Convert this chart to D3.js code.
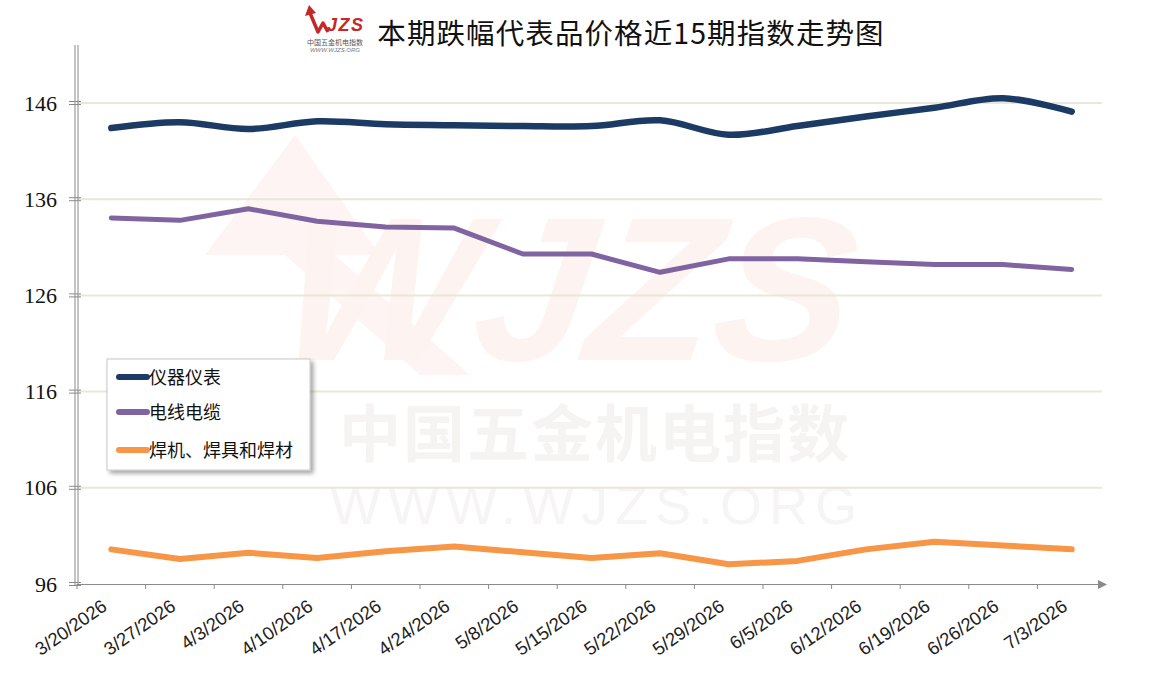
<!DOCTYPE html>
<html><head><meta charset="utf-8">
<script src="https://cdn.jsdelivr.net/npm/d3@7"></script>
<style>body{margin:0;background:#fff;}svg{display:block;}</style>
</head><body>
<svg id="c" width="1159" height="676"></svg>
<script>
const categories = ["3/20/2026","3/27/2026","4/3/2026","4/10/2026","4/17/2026","4/24/2026","5/8/2026","5/15/2026","5/22/2026","5/29/2026","6/5/2026","6/12/2026","6/19/2026","6/26/2026","7/3/2026"];
const instruments = [143.4,144.0,143.3,144.1,143.8,143.7,143.6,143.6,144.2,142.7,143.6,144.6,145.5,146.5,145.1];
const cables = [134.05,133.8,135.0,133.7,133.1,133.0,130.3,130.3,128.4,129.8,129.8,129.5,129.2,129.2,128.7];
const welding = [99.6,98.6,99.25,98.7,99.4,99.9,99.3,98.7,99.2,98.05,98.4,99.6,100.4,100.0,99.6];
const yTicks = [96,106,116,126,136,146];
const seriesNames = ["仪器仪表","电线电缆","焊机、焊具和焊材"];
const title = "本期跌幅代表品价格近15期指数走势图";

const svg = d3.select("#c");
const pL = 77, pR = 1106, pT = 45, pB = 584;
const x = d3.scaleBand().domain(categories).range([pL, pR]);
const y = d3.scaleLinear().domain([96, 146]).range([pB, 103]);
const cx = d => x(d) + x.bandwidth()/2;

// watermark
const wm = svg.append("g");
wm.append("path").attr("d","M205,255 L295,135 L380,255 L335,255 L470,375 L420,375 L285,255 Z")
  .attr("fill","#fdf4f3");
wm.append("text").attr("x", 610).attr("y", 360).attr("text-anchor","middle")
  .attr("font-family","Liberation Sans, Arial").attr("font-weight","bold").attr("font-style","italic")
  .attr("font-size", 205).attr("fill","#fdf3f1").attr("transform","skewX(-8)").text("WJZS");
wm.append("text").attr("x", 595).attr("y", 457).attr("text-anchor","middle")
  .attr("font-family","Noto Sans CJK SC").attr("font-weight","bold")
  .attr("font-size", 62).attr("fill","#f6f3f3").attr("letter-spacing", 2).text("中国五金机电指数");
wm.append("text").attr("x", 597).attr("y", 524).attr("text-anchor","middle")
  .attr("font-family","Liberation Sans, Arial")
  .attr("font-size", 54).attr("fill","#f6f4f4").attr("letter-spacing", 7).text("WWW.WJZS.ORG");

// grid
svg.append("g").selectAll("line").data(yTicks.slice(1)).join("line")
  .attr("x1", pL).attr("x2", pR - 4).attr("y1", d => y(d)).attr("y2", d => y(d))
  .attr("stroke", "#e9e7d9").attr("stroke-width", 2);

// y axis (double line)
[pL - 2, pL + 1].forEach(xx => svg.append("line").attr("x1", xx).attr("x2", xx).attr("y1", pT).attr("y2", pB + 2)
  .attr("stroke", "#8a8a8a").attr("stroke-width", 1));
const yAxis = d3.axisLeft(y).tickValues(yTicks).tickSize(0).tickPadding(17);
const yg = svg.append("g").attr("transform", `translate(${pL - 3},0)`).call(yAxis);
yg.select(".domain").remove();
yg.selectAll("text").attr("font-family","Liberation Serif, Times New Roman").attr("font-size", 22).attr("fill","#111");
yTicks.forEach(t => {
  [-1.5, 1.5].forEach(o => svg.append("line").attr("x1", 69).attr("x2", 81).attr("y1", y(t)+o).attr("y2", y(t)+o)
    .attr("stroke", "#8a8a8a").attr("stroke-width", 1));
});

// x axis
svg.append("line").attr("x1", pL).attr("x2", pR - 6).attr("y1", pB + 0.5).attr("y2", pB + 0.5)
  .attr("stroke", "#8a8a8a").attr("stroke-width", 1.2);
svg.append("path").attr("d", `M${pR-8},${pB-4} L${pR+1},${pB+0.5} L${pR-8},${pB+5} Z`).attr("fill", "#8a8a8a");
svg.append("g").selectAll("line").data(categories).join("line")
  .attr("x1", d => x(d)).attr("x2", d => x(d)).attr("y1", pB).attr("y2", pB + 5)
  .attr("stroke", "#8a8a8a");
svg.append("g").selectAll("text").data(categories).join("text")
  .attr("transform", d => `translate(${cx(d) - 3},${pB + 25}) rotate(-35)`)
  .attr("text-anchor", "end")
  .attr("font-family", "Liberation Sans, Arial").attr("font-size", 18.5).attr("fill", "#222")
  .text(d => d);

// lines
const pts = arr => categories.map((c, i) => [cx(c), y(arr[i])]);
const colors = ["#1c3b64", "#8064a2", "#f79646"];
svg.append("path").attr("d", d3.line().curve(d3.curveCatmullRom.alpha(0.5))(pts(instruments)))
  .attr("fill","none").attr("stroke", colors[0]).attr("stroke-width", 6.5).attr("stroke-linecap","round").attr("stroke-linejoin","round");
svg.append("path").attr("d", d3.line()(pts(cables)))
  .attr("fill","none").attr("stroke", colors[1]).attr("stroke-width", 5).attr("stroke-linecap","round").attr("stroke-linejoin","round");
svg.append("path").attr("d", d3.line()(pts(welding)))
  .attr("fill","none").attr("stroke", colors[2]).attr("stroke-width", 6).attr("stroke-linecap","round").attr("stroke-linejoin","round");

// legend
const defs = svg.append("defs");
const f = defs.append("filter").attr("id","sh").attr("x","-10%").attr("y","-10%").attr("width","130%").attr("height","130%");
f.append("feDropShadow").attr("dx",3).attr("dy",3).attr("stdDeviation",2).attr("flood-color","#000").attr("flood-opacity",0.35);
const lg = svg.append("g");
lg.append("rect").attr("x", 107).attr("y", 359).attr("width", 203).attr("height", 111)
  .attr("fill", "#fff").attr("stroke", "#c8c8c8").attr("filter", "url(#sh)");
const ly = [377, 412, 450];
seriesNames.forEach((n, i) => {
  lg.append("line").attr("x1", 119).attr("x2", 147).attr("y1", ly[i]).attr("y2", ly[i])
    .attr("stroke", colors[i]).attr("stroke-width", 6).attr("stroke-linecap","round");
  lg.append("text").attr("x", 149).attr("y", ly[i] + 7).attr("font-family", "Noto Sans CJK SC").attr("font-size", 18)
    .attr("fill", "#111").text(n);
});

// logo
const logo = svg.append("g");
logo.append("path").attr("d","M310,13 L318,32 L323,23 L328,32").attr("fill","none").attr("stroke","#c62828").attr("stroke-width",3.5).attr("stroke-linejoin","round");
logo.append("path").attr("d","M305,16 L309,5 L316,13 Z").attr("fill","#c62828");
logo.append("text").attr("x", 327).attr("y", 31).attr("font-family","Liberation Sans").attr("font-weight","bold").attr("font-style","italic")
  .attr("font-size", 18).attr("fill","#c62828").attr("textLength", 36).text("JZS");
logo.append("text").attr("x", 335).attr("y", 45).attr("text-anchor","middle").attr("font-family","Noto Sans CJK SC")
  .attr("font-size", 7).attr("fill","#555").text("中国五金机电指数");
logo.append("text").attr("x", 335).attr("y", 52).attr("text-anchor","middle").attr("font-family","Liberation Sans").attr("font-style","italic")
  .attr("font-size", 6).attr("fill","#777").text("WWW.WJZS.ORG");

// title
svg.append("text").attr("x", 631).attr("y", 44).attr("text-anchor","middle")
  .attr("font-family","Noto Sans CJK SC").attr("font-size", 28.5).attr("letter-spacing", 1.1).attr("fill","#111").text(title);
</script>
</body></html>
